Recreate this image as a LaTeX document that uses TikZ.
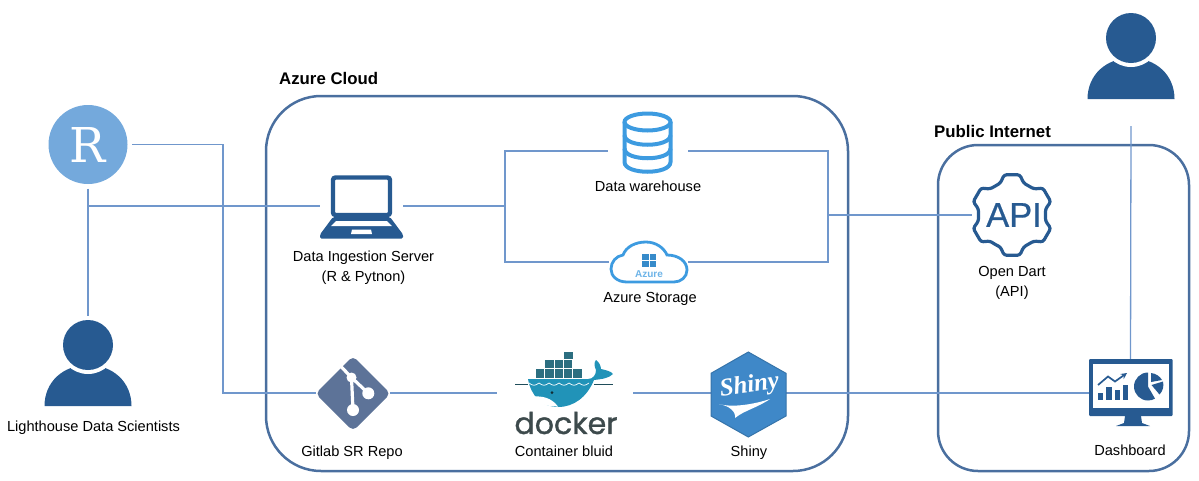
\documentclass[tikz,border=0pt]{standalone}
\usepackage{fontspec}
\setmainfont{Liberation Sans}
\newfontfamily\poppins[FakeBold=1.2]{Poppins}
\newfontfamily\apifont[FakeBold=0.6]{Liberation Sans}
\newfontfamily\serifshiny{Liberation Serif}
\newfontfamily\slabfont{DejaVu Serif}
\definecolor{linkblue}{HTML}{7097CC}
\definecolor{boxblue}{HTML}{4A6F9F}
\definecolor{darkblue}{HTML}{275A91}
\definecolor{sky}{HTML}{74A9DC}
\definecolor{iconblue}{HTML}{3D9BE0}
\definecolor{gitblue}{HTML}{5D7398}
\definecolor{shinyblue}{HTML}{3F88C8}
\definecolor{whaleblue}{HTML}{2193B8}
\definecolor{crate}{HTML}{2C6E80}
\definecolor{dockergrey}{HTML}{3D4A4C}

\begin{document}
\begin{tikzpicture}[x=1pt,y=-1pt]
    \newcommand{\person}[2]{
      \begin{scope}[shift={(#1,#2)}]
        \fill[darkblue] (-43.5,86) .. controls (-43.5,62) and (-25,45) .. (0,45) .. controls (25,45) and (43.5,62) .. (43.5,86) -- cycle;
        \fill[white] (0,25) circle (29pt);
        \fill[darkblue] (0,25) circle (25pt);
      \end{scope}
    }

    \tikzstyle{link} = [draw=linkblue,line width=1.3pt]
    \tikzstyle{slot}=[
      rectangle,
      inner sep=0,
      outer sep=0,
    ]
    \tikzstyle{zone}=[
      rectangle,
      draw=boxblue,
      line width=2.5pt,
    ]
    \tikzstyle{lbl}=[
      inner sep=0,
      align=center,
      font=\fontsize{14.6}{20}\selectfont,
    ]
    \tikzstyle{blbl}=[
      lbl,
      anchor=base,
    ]
    \tikzstyle{zlbl}=[
      inner sep=0,
      font=\fontsize{16.8}{20}\selectfont\bfseries,
    ]

    \useasboundingbox (0,0) rectangle (1199,480);

    {
      \node[zone,rounded corners=55pt,minimum width=582pt,minimum height=375pt] (nazure) at (557,283.5) {};
      \node[zone,rounded corners=40pt,minimum width=251pt,minimum height=326pt] (npublic) at (1063.5,308) {};
      \node[zlbl,anchor=west] (lazure) at (279,78) {Azure Cloud};
      \node[zlbl,anchor=west] (lpublic) at (934,131) {Public Internet};
    }

    {
      \node[circle,fill=sky,minimum size=79pt,inner sep=0,outer sep=4.5pt,text=white,font=\slabfont\fontsize{48}{48}\selectfont] (nr) at (88,144.5) {R};
      \node[slot,minimum width=87pt,minimum height=87pt] (nlds) at (88,363.5) {};
      \node[slot,minimum width=87pt,minimum height=113pt] (nuser) at (1131,69.5) {};
      \node[slot,minimum width=83pt,minimum height=60pt] (nlaptop) at (361.5,206) {};
      \node[slot,minimum width=80pt,minimum height=60pt] (nware) at (648,151) {};
      \node[slot,minimum width=79pt,minimum height=40pt] (nstore) at (648.5,262) {};
      \node[slot,minimum width=80pt,minimum height=80pt] (napi) at (1012,215) {};
      \node[slot,minimum width=74pt,minimum height=74pt] (ngit) at (353,393) {};
      \node[slot,minimum width=136pt,minimum height=80pt] (ndock) at (565,393) {};
      \node[slot,minimum width=75pt,minimum height=80pt] (nshiny) at (748.5,393) {};
      \node[slot,minimum width=83pt,minimum height=68pt] (ndash) at (1130.5,393) {};

      \coordinate (cr) at (223,144.5);
      \coordinate (j1) at (88,206);
      \coordinate (j2) at (505,206);
      \coordinate (j3) at (828,215);
    }

    {
      \draw[link] (nr.east) -- (cr) |- (ngit.west);
      \draw[link] (nr.south) -- (nlds.north);
      \draw[link] (j1) -- (nlaptop.west);
      \draw[link] (nlaptop.east) -- (j2);
      \draw[link] (j2) |- (nware.west);
      \draw[link] (j2) |- (nstore.west);
      \draw[link] (nware.east) -| (j3);
      \draw[link] (nstore.east) -| (j3);
      \draw[link] (j3) -- (napi.west);
      \draw[link] (ngit.east) -- (ndock.west);
      \draw[link] (ndock.east) -- (nshiny.west);
      \draw[link] (nshiny.east) -- (ndash.west);
      \draw[link] (ndash.north) -- (nuser.south);
    }

    {
      \person{88}{320}
      \person{1131}{13}
    }

    {
      \draw[darkblue,line width=4.4pt,rounded corners=2.5pt,fill=white] (333,177.5) rectangle (390,215);
      \fill[darkblue,rounded corners=1.5pt] (333,217) -- (390,217) -- (403,234.5) -- (403,238.5) -- (320,238.5) -- (320,234.5) -- cycle;
      \fill[white] (336,221) -- (387,221) -- (392,226) -- (331,226) -- cycle;
      \fill[white] (352,229.5) -- (371,229.5) -- (372,234) -- (351,234) -- cycle;
    }

    {
      \draw[iconblue,line width=4pt] (647.5,122) ellipse (23pt and 8.5pt);
      \draw[iconblue,line width=4pt] (624.5,122) -- (624.5,162)
        .. controls (624.5,175) and (670.5,175) .. (670.5,162) -- (670.5,122);
      \draw[iconblue,line width=4pt] (624.5,135) .. controls (624.5,148) and (670.5,148) .. (670.5,135);
      \draw[iconblue,line width=4pt] (624.5,148.5) .. controls (624.5,161.5) and (670.5,161.5) .. (670.5,148.5);
    }

    {
      \draw[iconblue,line width=2.8pt,fill=white] (627,282) .. controls (617,282) and (611,276) .. (611,269)
        .. controls (611,262) and (616,256) .. (623,255) .. controls (626,247) and (635,242) .. (646,242)
        .. controls (656,242) and (664,248) .. (667,255) .. controls (678,255) and (687,261) .. (687,270)
        .. controls (687,277) and (681,282) .. (674,282) -- cycle;
      \foreach \i in {0,1} {
        \foreach \j in {0,1} {
          \fill[iconblue!90!black] (642+7.6*\i,253.5+7.2*\j) rectangle +(6.8,6.4);
        }
      }
      \node[inner sep=0,text=iconblue!75,font=\fontsize{10}{10}\selectfont\bfseries] (tazure) at (649,274.5) {Azure};
    }

    {
      \begin{scope}[shift={(1012,215)}]
        \draw[darkblue,line width=3.2pt,rounded corners=2.5pt] (120:34)
          \foreach \a in {90,30,-30,-90,-150,-210} { -- (\a+20:34) -- (\a+11:41) -- (\a-11:41) -- (\a-20:34) } -- cycle;
      \end{scope}
      \node[inner sep=0,text=darkblue,font=\apifont\fontsize{34.5}{35}\selectfont] (tapi) at (1014,215) {API};
    }

    {
      \fill[gitblue,rounded corners=5pt] (353,356) -- (390.5,393.5) -- (353,431) -- (315.5,393.5) -- cycle;
      \draw[white,line width=3.2pt] (340,365.5) -- (351.5,377.5) -- (353,410);
      \draw[white,line width=3.2pt] (351.5,377.5) -- (368.3,393.3);
      \fill[white] (351.5,377.5) circle (5pt);
      \fill[white] (353,410) circle (6pt);
      \fill[white] (368.3,393.3) circle (6pt);
    }

    {
      \foreach \i in {0,...,4} {
        \draw[white,fill=crate,line width=.5pt] (535+9.4*\i,368) rectangle +(9.4,10);
      }
      \foreach \i in {0,1,2} {
        \draw[white,fill=crate,line width=.5pt] (544.4+9.4*\i,359.5) rectangle +(9.4,8.5);
      }
      \draw[white,fill=crate,line width=.5pt] (563.2,351) rectangle +(9.8,8.5);
      \fill[whaleblue] (528,379) -- (588,379) .. controls (593,379) and (596,375) .. (596,370)
        .. controls (594,366) and (594,362) .. (596,360) .. controls (599,362) and (601,366) .. (601,369)
        .. controls (605,370) and (611,371) .. (613,374) .. controls (609,378) and (603,379) .. (594,380)
        .. controls (587,397) and (574,407) .. (558,407) .. controls (542,407) and (531,396) .. (528,379) -- cycle;
      \fill[white] (533.5,396.5) .. controls (541,396) and (551,397) .. (558,406.5) .. controls (547,407) and (538,403) .. (533.5,396.5) -- cycle;
      \draw[crate!70!black,line width=.8pt] (515,384.5) -- (528,384.5);
      \draw[crate!70!black,line width=.8pt] (594,384.5) -- (613,384.5);
      \foreach \i in {0,...,5} {
        \draw[white,line width=.7pt] (529+10*\i,383) .. controls (533+10*\i,386) and (535+10*\i,386) .. (539+10*\i,383);
      }
      \fill[crate!40!black] (552,392.5) circle (1.5pt);
      \node[inner sep=0,text=dockergrey,font=\poppins\fontsize{30}{30}\selectfont] (tdocker) at (566,423) {docker};
    }

    {
      \filldraw[fill=shinyblue,draw=shinyblue!85!black,line width=1pt] (748.3,352) -- (786,373.3) -- (786,416) -- (748.3,437) -- (711,416) -- (711,373.3) -- cycle;
      \node[inner sep=0,text=white,rotate=8,font=\serifshiny\fontsize{25}{25}\selectfont\bfseries\itshape] (tshiny) at (749.5,386) {Shiny};
      \fill[white] (719,404) .. controls (733,408) and (755,404) .. (770,399) .. controls (757,408) and (745,410) .. (735,418) .. controls (736,411) and (729,406) .. (719,404) -- cycle;
    }

    {
      \fill[darkblue,rounded corners=1pt] (1089,359) rectangle (1172.5,416);
      \fill[white] (1093,363.5) rectangle (1168.5,408);
      \fill[darkblue] (1125,416) -- (1141,416) -- (1142,423) -- (1150,426) -- (1116,426) -- (1124,423) -- cycle;
      \fill[darkblue] (1098,392.5) rectangle +(5,7);
      \fill[darkblue] (1106,387) rectangle +(5.5,12.5);
      \fill[darkblue] (1114.5,390) rectangle +(5.5,9.5);
      \fill[darkblue] (1122.5,385) rectangle +(5,14.5);
      \draw[darkblue,line width=1.7pt,->,>=stealth] (1098,385) -- (1108,376.5) -- (1115,381.5) -- (1127,373);
      \fill[darkblue] (1148,386.5) -- (1148,372.5) arc[start angle=90,end angle=300,radius=14pt] -- cycle;
      \fill[darkblue] (1151,382) -- (1151,373) .. controls (1156,373.5) and (1160,376.5) .. (1162,380) -- cycle;
      \fill[darkblue] (1151.5,385) -- (1163,381.5) .. controls (1164,386) and (1163,391) .. (1159.5,394.5) -- cycle;
    }

    {
      \node[blbl] (llds) at (93.5,431) {Lighthouse Data Scientists};
      \node[lbl] (llaptop) at (363.5,268) {Data Ingestion Server\\(R \& Pytnon)};
      \node[blbl] (lware) at (648,191) {Data warehouse};
      \node[blbl] (lstore) at (650,302) {Azure Storage};
      \node[blbl] (lgit) at (352,456) {Gitlab SR Repo};
      \node[blbl] (ldock) at (564,456) {Container bluid};
      \node[blbl] (lshiny) at (749,456) {Shiny};
      \node[lbl] (lapi) at (1012,283) {Open Dart\\(API)};
      \node[blbl] (ldash) at (1130,455) {Dashboard};
    }
  \end{tikzpicture}
\end{document}
